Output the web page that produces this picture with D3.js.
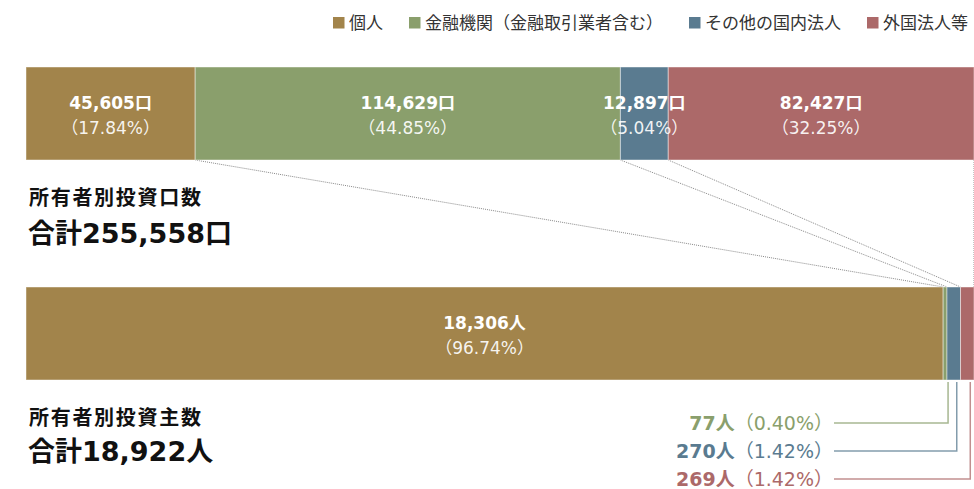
<!DOCTYPE html>
<html lang="ja">
<head>
<meta charset="utf-8">
<script src="https://cdn.jsdelivr.net/npm/d3@7"></script>
<style>
  html, body { margin: 0; padding: 0; background: #fff; }
  svg { display: block; font-family: "DejaVu Sans", "Noto Sans CJK JP", sans-serif; }
</style>
</head>
<body>
<svg id="chart" width="974" height="489"></svg>
<script>
// Owner categories and their colours
const categories = ['個人', '金融機関（金融取引業者含む）', 'その他の国内法人', '外国法人等'];
const colors = ['#a2844b', '#8a9f6c', '#5a7b90', '#ac6969'];

// Investment units held by each owner type
const unitValues = [45605, 114629, 12897, 82427];
const unitPct = ['17.84', '44.85', '5.04', '32.25'];

// Number of unitholders by owner type
const holderValues = [18306, 77, 270, 269];
const holderPct = ['96.74', '0.40', '1.42', '1.42'];

const unitTitle = '所有者別投資口数';
const holderTitle = '所有者別投資主数';

const svg = d3.select('#chart');
const fmt = d3.format(',');

const bar = { x0: 26, x1: 974, h: 93, topY: 67, botY: 287 };

function stack(values) {
  let acc = 0;
  return values.map((v, i) => { const s = acc; acc += v; return { i, v, s, e: acc }; });
}

const unitStack = stack(unitValues);
const holderStack = stack(holderValues);
const unitTotal = d3.sum(unitValues);
const holderTotal = d3.sum(holderValues);

const xU = d3.scaleLinear().domain([0, unitTotal]).range([bar.x0, bar.x1]);
const xH = d3.scaleLinear().domain([0, holderTotal]).range([bar.x0, bar.x1]);

// Legend
const legend = svg.append('g').attr('font-size', 17).attr('fill', '#333');
let lx = 333;
categories.forEach((c, i) => {
  legend.append('rect').attr('x', lx).attr('y', 17).attr('width', 11.5).attr('height', 11.5).attr('fill', colors[i]);
  const t = legend.append('text').attr('x', lx + 16).attr('y', 28.5).text(c);
  lx += 16 + t.node().getComputedTextLength() + 26;
});

// Dotted connector lines between the two bars
const links = svg.append('g');
unitStack.forEach(d => {
  const h = holderStack[d.i];
  links.append('line')
    .attr('x1', xU(d.e)).attr('y1', bar.topY + bar.h)
    .attr('x2', xH(h.e)).attr('y2', bar.botY)
    .attr('stroke', '#8a8a8a').attr('stroke-width', 1)
    .attr('stroke-dasharray', '1,1');
});

// Top bar: units
const topG = svg.append('g');
topG.selectAll('rect').data(unitStack).join('rect')
  .attr('x', d => xU(d.s)).attr('y', bar.topY)
  .attr('width', d => xU(d.e) - xU(d.s)).attr('height', bar.h)
  .attr('fill', d => colors[d.i])
  .attr('stroke', 'rgba(255,255,255,0.45)').attr('stroke-width', 1);

topG.selectAll('text.val').data(unitStack).join('text').attr('class', 'val')
  .attr('x', d => (xU(d.s) + xU(d.e)) / 2).attr('y', bar.topY + 42)
  .attr('text-anchor', 'middle').attr('fill', '#fff').attr('font-weight', 'bold').attr('font-size', 17)
  .text(d => fmt(d.v) + '口');
topG.selectAll('text.pct').data(unitStack).join('text').attr('class', 'pct')
  .attr('x', d => (xU(d.s) + xU(d.e)) / 2).attr('y', bar.topY + 67)
  .attr('text-anchor', 'middle').attr('fill', 'rgba(255,255,255,0.92)').attr('font-size', 17)
  .text(d => '（' + unitPct[d.i] + '%）');

// Bottom bar: unitholders
const botG = svg.append('g');
botG.selectAll('rect').data(holderStack).join('rect')
  .attr('x', d => xH(d.s)).attr('y', bar.botY)
  .attr('width', d => xH(d.e) - xH(d.s)).attr('height', bar.h)
  .attr('fill', d => colors[d.i])
  .attr('stroke', 'rgba(255,255,255,0.45)').attr('stroke-width', 1);

const big = holderStack[0];
botG.append('text')
  .attr('x', (xH(big.s) + xH(big.e)) / 2).attr('y', bar.botY + 42)
  .attr('text-anchor', 'middle').attr('fill', '#fff').attr('font-weight', 'bold').attr('font-size', 17)
  .text(fmt(big.v) + '人');
botG.append('text')
  .attr('x', (xH(big.s) + xH(big.e)) / 2).attr('y', bar.botY + 67)
  .attr('text-anchor', 'middle').attr('fill', 'rgba(255,255,255,0.92)').attr('font-size', 17)
  .text('（' + holderPct[0] + '%）');

// Callouts for the small holder segments
const callG = svg.append('g');
holderStack.slice(1).forEach((d, k) => {
  const cx = (xH(d.s) + xH(d.e)) / 2 + 3;
  const cy = 423 + k * 28;
  callG.append('polyline')
    .attr('points', [[cx, bar.botY + bar.h + 2], [cx, cy], [834, cy]].map(p => p.join(',')).join(' '))
    .attr('fill', 'none').attr('stroke', colors[d.i]).attr('stroke-opacity', 0.75).attr('stroke-width', 1.5);
  const t = callG.append('text')
    .attr('x', 833).attr('y', cy + 6.5).attr('text-anchor', 'end')
    .attr('fill', colors[d.i]).attr('font-size', 19);
  t.append('tspan').attr('font-weight', 'bold').text(fmt(d.v) + '人');
  t.append('tspan').text('（' + holderPct[d.i] + '%）');
});

// Titles and totals
const titles = svg.append('g').attr('fill', '#111').attr('font-weight', 'bold');
titles.append('text').attr('x', 29).attr('y', 205).attr('font-size', 20).attr('letter-spacing', 1.7).text(unitTitle);
titles.append('text').attr('x', 28).attr('y', 243).attr('font-size', 27).text('合計' + fmt(unitTotal) + '口');
titles.append('text').attr('x', 29).attr('y', 425).attr('font-size', 20).attr('letter-spacing', 1.7).text(holderTitle);
titles.append('text').attr('x', 28).attr('y', 461).attr('font-size', 27).text('合計' + fmt(holderTotal) + '人');
</script>
</body>
</html>
